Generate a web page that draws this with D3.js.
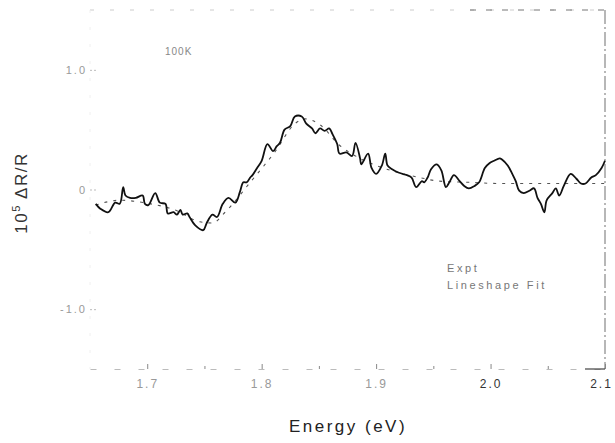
<!DOCTYPE html>
<html>
<head>
<meta charset="utf-8">
<script src="https://cdn.jsdelivr.net/npm/d3@7/dist/d3.min.js"></script>
<style>
  html, body { margin: 0; padding: 0; background: #fff; }
  svg { display: block; font-family: "Liberation Sans", Arial, sans-serif; }
</style>
</head>
<body>
<svg id="chart" width="615" height="443"></svg>
<script>
// ---- Data ----
const exptEnergy = [1.655,1.659,1.666,1.672,1.676,1.679,1.681,1.685,1.690,1.696,1.698,1.701,1.707,1.711,1.716,1.718,1.723,1.726,1.729,1.731,1.735,1.737,1.742,1.749,1.752,1.757,1.761,1.766,1.771,1.777,1.781,1.784,1.787,1.790,1.792,1.796,1.800,1.805,1.810,1.813,1.816,1.820,1.825,1.829,1.835,1.839,1.844,1.847,1.851,1.855,1.859,1.862,1.866,1.868,1.874,1.879,1.882,1.886,1.887,1.893,1.896,1.900,1.905,1.908,1.910,1.914,1.920,1.927,1.931,1.935,1.940,1.942,1.945,1.948,1.953,1.957,1.961,1.964,1.968,1.973,1.977,1.981,1.986,1.990,1.995,1.999,2.003,2.008,2.010,2.015,2.019,2.022,2.025,2.029,2.034,2.038,2.041,2.044,2.047,2.049,2.054,2.057,2.060,2.064,2.070,2.075,2.079,2.083,2.088,2.092,2.097,2.100];
const exptValue = [-0.12,-0.16,-0.19,-0.11,-0.12,0.02,-0.05,-0.07,-0.07,-0.05,-0.12,-0.13,-0.03,-0.11,-0.12,-0.20,-0.19,-0.21,-0.17,-0.21,-0.20,-0.23,-0.30,-0.34,-0.28,-0.21,-0.23,-0.12,-0.07,-0.11,-0.02,0.06,0.06,0.10,0.12,0.18,0.24,0.38,0.32,0.36,0.39,0.50,0.53,0.61,0.61,0.55,0.51,0.47,0.51,0.49,0.51,0.46,0.38,0.30,0.31,0.28,0.39,0.26,0.21,0.30,0.18,0.13,0.20,0.30,0.20,0.17,0.14,0.12,0.10,0.02,0.07,0.06,0.10,0.17,0.21,0.16,0.02,0.06,0.12,0.07,0.03,0.01,0.03,0.06,0.18,0.22,0.24,0.26,0.25,0.20,0.13,0.07,-0.01,-0.03,-0.01,0.01,-0.07,-0.12,-0.19,-0.09,-0.03,0.01,-0.05,0.03,0.13,0.09,0.05,0.05,0.10,0.12,0.18,0.24];

const fitEnergy = [1.655,1.676,1.703,1.724,1.746,1.757,1.768,1.790,1.812,1.829,1.838,1.851,1.868,1.886,1.903,1.920,1.938,1.955,1.981,2.008,2.100];
const fitValue  = [-0.13,-0.09,-0.12,-0.17,-0.27,-0.28,-0.19,0.06,0.32,0.55,0.59,0.54,0.37,0.26,0.19,0.14,0.10,0.07,0.06,0.05,0.05];

const xMajorTicks = [1.7, 1.8, 1.9, 2.0, 2.1];
const xMinorTicks = [1.75, 1.85, 1.95, 2.05];
const yTicks = [-1, 0, 1];
const yTickLabels = ["-1.0", "0", "1.0"];
const legendLabels = ["Expt", "Lineshape Fit"];
const tempLabel = "100K";

// ---- Layout ----
const svg = d3.select("#chart");
const L = 90, R = 605, T = 10, B = 369;

const x = d3.scaleLinear().domain([1.65, 2.1]).range([L, R]);
const y = d3.scaleLinear().domain([-1.5, 1.5]).range([B, T]);

// frame (faded, like the scan)
svg.append("line").attr("x1", L).attr("x2", R).attr("y1", T).attr("y2", T)
  .attr("stroke", "#ccc").attr("stroke-width", 1).attr("stroke-dasharray", "4,16");
svg.append("line").attr("x1", 470).attr("x2", R).attr("y1", T).attr("y2", T)
  .attr("stroke", "#777").attr("stroke-width", 1).attr("stroke-dasharray", "6,10");
svg.append("line").attr("x1", R).attr("x2", R).attr("y1", T).attr("y2", B)
  .attr("stroke", "#888").attr("stroke-width", 1.2).attr("stroke-dasharray", "14,3,2,3");
svg.append("line").attr("x1", L).attr("x2", L).attr("y1", T).attr("y2", B)
  .attr("stroke", "#f0f0f0").attr("stroke-width", 1).attr("stroke-dasharray", "3,14");

// bottom axis
const xAxis = d3.axisBottom(x).tickValues(xMajorTicks)
  .tickFormat(d3.format(".1f")).tickSizeInner(-5).tickSizeOuter(0).tickPadding(10);
const gx = svg.append("g").attr("transform", `translate(0,${B})`).call(xAxis);
gx.select(".domain").attr("stroke", "#bbb").attr("stroke-dasharray", "6,18");
gx.selectAll(".tick line").attr("stroke", "#888");
gx.selectAll(".tick text")
  .attr("font-size", 12).attr("letter-spacing", 2)
  .attr("dx", d => d >= 2.1 ? -4 : 0)
  .attr("fill", d => d >= 2.0 ? "#333" : "#999");

const xMinor = d3.axisBottom(x).tickValues(xMinorTicks).tickFormat("").tickSizeInner(-3).tickSizeOuter(0);
const gxm = svg.append("g").attr("transform", `translate(0,${B})`).call(xMinor);
gxm.select(".domain").remove();
gxm.selectAll(".tick line").attr("stroke", "#888");

// bottom-right corner solid bit
svg.append("line").attr("x1", 585).attr("x2", R).attr("y1", B).attr("y2", B)
  .attr("stroke", "#444").attr("stroke-width", 1.2);

// left axis
const yAxis = d3.axisLeft(y).tickValues(yTicks)
  .tickFormat((d, i) => yTickLabels[i]).tickSizeInner(-8).tickSizeOuter(0).tickPadding(3);
const gy = svg.append("g").attr("transform", `translate(${L},0)`).call(yAxis);
gy.select(".domain").remove();
gy.selectAll(".tick line").attr("stroke", "#bbb").attr("stroke-dasharray", "2,2");
gy.selectAll(".tick text").attr("font-size", 11).attr("letter-spacing", 2).attr("fill", "#999");

// fit curve (dashed)
const fitData = fitEnergy.map((e, i) => [e, fitValue[i]]);
const fitLine = d3.line().x(d => x(d[0])).y(d => y(d[1])).curve(d3.curveMonotoneX);
svg.append("path").datum(fitData).attr("d", fitLine)
  .attr("fill", "none").attr("stroke", "#555").attr("stroke-width", 1.1)
  .attr("stroke-dasharray", "3,6");

// experimental curve
const exptData = exptEnergy.map((e, i) => [e, exptValue[i]]);
const exptLine = d3.line().x(d => x(d[0])).y(d => y(d[1])).curve(d3.curveCatmullRom.alpha(0.5));
svg.append("path").datum(exptData).attr("d", exptLine)
  .attr("fill", "none").attr("stroke", "#111").attr("stroke-width", 1.8)
  .attr("stroke-linejoin", "round");

// temperature label
svg.append("text").attr("x", 165).attr("y", 55).text(tempLabel)
  .attr("font-size", 10).attr("letter-spacing", 1).attr("fill", "#888");

// legend
svg.selectAll(".leg").data(legendLabels).enter().append("text")
  .attr("class", "leg")
  .attr("x", 447).attr("y", (d, i) => 272 + i * 17)
  .text(d => d)
  .attr("font-size", 11).attr("letter-spacing", 2.6).attr("fill", "#777");

// axis titles
svg.append("text").attr("x", 348).attr("y", 432).attr("text-anchor", "middle")
  .attr("font-size", 17).attr("letter-spacing", 2.5).attr("fill", "#222")
  .text("Energy (eV)");

const yl = svg.append("text").attr("transform", "translate(27,193) rotate(-90)")
  .attr("text-anchor", "middle").attr("font-size", 17).attr("letter-spacing", 1.5).attr("fill", "#333");
yl.append("tspan").text("10");
yl.append("tspan").attr("font-size", 11).attr("dy", -7).text("5");
yl.append("tspan").attr("dy", 7).text(" ΔR/R");
</script>
</body>
</html>
